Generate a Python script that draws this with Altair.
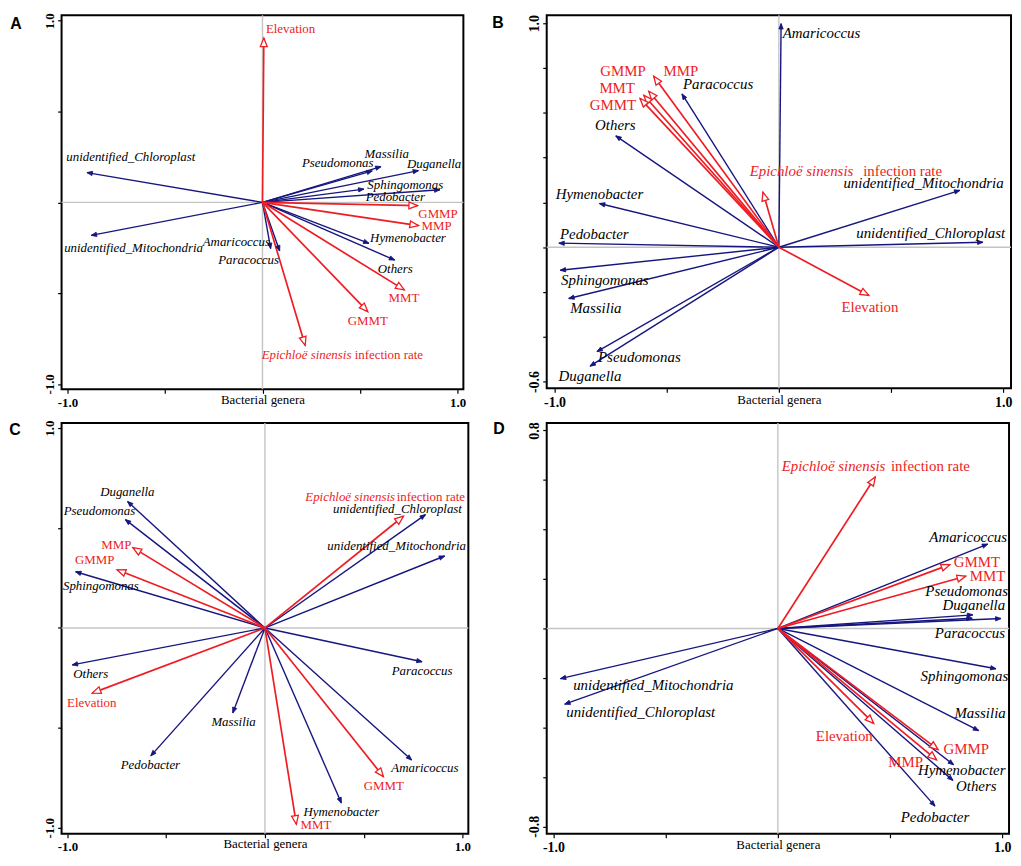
import math
import altair as alt
import pandas as pd

# ---------------- data ----------------
GENERA = ["Amaricoccus", "Duganella", "Hymenobacter", "Massilia", "Others",
          "Paracoccus", "Pedobacter", "Pseudomonas", "Sphingomonas",
          "unidentified_Chloroplast", "unidentified_Mitochondria"]
ENV = ["Elevation", "MMP", "GMMP", "MMT", "GMMT", "Epichloë sinensis infection rate"]
XTICKS = [-1.0, -0.5, 0.0, 0.5, 1.0]

# Panel A
A_GX = [0.042, 0.80, 0.546, 0.608, 0.678, 0.088, 0.91, 0.563, 0.52, -0.90, -0.878]
A_GY = [-0.255, 0.175, -0.226, 0.197, -0.318, -0.268, 0.069, 0.173, 0.073, 0.164, -0.182]
A_GLX = [-0.134, 0.88, 0.746, 0.637, 0.681, -0.071, 0.681, 0.386, 0.732, -0.675, -0.661]
A_GLY = [-0.217, 0.21, -0.195, 0.265, -0.365, -0.319, 0.029, 0.219, 0.093, 0.248, -0.25]
A_EX = [0.007, 0.80, 0.795, 0.727, 0.54, 0.219]
A_EY = [0.905, -0.128, -0.018, -0.482, -0.602, -0.788]
A_ELX = [0.144, 0.893, 0.90, 0.725, 0.54]
A_ELY = [0.954, -0.128, -0.062, -0.529, -0.651]
A_EPI = [0.456, 0.473, -0.839]
A_YTICKS = [-1.0, -0.5, 0.0, 0.5, 1.0]

# Panel B
B_GX = [0.01, -0.842, -0.80, -0.937, -0.727, -0.432, -0.981, -0.811, -0.975, 0.91, 0.807]
B_GY = [0.998, -0.531, 0.195, -0.229, 0.497, 0.684, 0.018, -0.466, -0.103, 0.022, 0.254]
B_GLX = [0.19, -0.842, -0.80, -0.816, -0.729, -0.271, -0.823, -0.622, -0.776, 0.677, 0.645]
B_GLY = [0.954, -0.575, 0.236, -0.27, 0.544, 0.729, 0.059, -0.491, -0.147, 0.065, 0.286]
B_EX = [0.401, -0.558, -0.58, -0.602, -0.619, -0.071]
B_EY = [-0.215, 0.763, 0.696, 0.678, 0.664, 0.246]
B_ELX = [0.406, -0.437, -0.695, -0.721, -0.74]
B_ELY = [-0.265, 0.785, 0.785, 0.711, 0.633]
B_EPI = [0.332, 0.376, 0.338]
B_YTICKS = [-0.6, -0.4, -0.2, 0.0, 0.2, 0.4, 0.6, 0.8, 1.0]

# Panel C
C_GX = [0.743, -0.696, 0.387, -0.163, -0.976, 0.796, -0.578, -0.707, -0.959, 0.813, 0.91]
C_GY = [-0.661, 0.633, -0.876, -0.425, -0.185, -0.169, -0.64, 0.542, 0.281, 0.567, 0.36]
C_GLX = [0.81, -0.697, 0.387, -0.159, -0.882, 0.796, -0.58, -0.838, -0.831, 0.671, 0.667]
C_GLY = [-0.702, 0.678, -0.921, -0.471, -0.231, -0.215, -0.686, 0.583, 0.212, 0.595, 0.41]
C_EX = [-0.875, -0.669, -0.749, 0.159, 0.60, 0.701]
C_EY = [-0.326, 0.402, 0.291, -0.982, -0.744, 0.559]
C_ELX = [-0.877, -0.753, -0.862, 0.258, 0.602]
C_ELY = [-0.375, 0.415, 0.34, -0.987, -0.792]
C_EPI = [0.659, 0.667, 0.655]
C_YTICKS = [-1.0, -0.5, 0.0, 0.5, 1.0]

# Panel D
D_GX = [0.935, 0.866, 0.783, 0.895, 0.78, 0.994, 0.70, 0.869, 0.972, -0.95, -0.969]
D_GY = [0.341, 0.041, -0.551, -0.413, -0.614, 0.04, -0.718, 0.055, -0.163, -0.306, -0.203]
D_GLX = [0.848, 0.873, 0.819, 0.901, 0.884, 0.856, 0.70, 0.841, 0.831, -0.611, -0.555]
D_GLY = [0.369, 0.094, -0.574, -0.34, -0.638, -0.019, -0.761, 0.151, -0.194, -0.337, -0.23]
D_EX = [0.427, 0.707, 0.714, 0.837, 0.766, 0.434]
D_EY = [-0.384, -0.531, -0.49, 0.211, 0.258, 0.612]
D_ELX = [0.296, 0.569, 0.839, 0.934, 0.887]
D_ELY = [-0.434, -0.54, -0.487, 0.211, 0.267]
D_EPI = [0.479, 0.504, 0.655]
D_YTICKS = [-0.8, -0.6, -0.4, -0.2, 0.0, 0.2, 0.4, 0.6, 0.8]

# ---------------- styling ----------------
BLUE = "#16167f"
RED = "#ee1d23"
GRAY = "#c4c4c4"
SERIF = "Liberation Serif"
HEAD = "M0,0L-0.4,1L0.4,1Z"


def lab_expr(lo, hi):
    return ("(abs(datum.value - (%g)) < 1e-6 || abs(datum.value - (%g)) < 1e-6) "
            "? replace(format(datum.value, '.1f'), '\u2212', '-') : ''" % (lo, hi))


def make_panel(letter, gx, gy, glx, gly, ex, ey, elx, ely, epi, xdom, ydom,
               yticks, w, h, fs, tfs, let_dx, let_dy):
    kx = w / (xdom[1] - xdom[0])
    ky = h / (ydom[1] - ydom[0])
    gen = pd.DataFrame({"name": GENERA, "x": gx, "y": gy, "lx": glx, "ly": gly})
    env = pd.DataFrame({"name": ENV, "x": ex, "y": ey})
    envlab = pd.DataFrame({"name": ENV[:5], "lx": elx, "ly": ely})
    for d in (gen, env):
        d["x0"] = 0.0
        d["y0"] = 0.0
        d["angle"] = [(math.degrees(math.atan2(a * kx, b * ky)) + 360.0) % 360.0
                      for a, b in zip(d["x"], d["y"])]
    epi_df = pd.DataFrame({"a": ["Epichloë sinensis"], "b": ["infection rate"],
                           "xa": [epi[0]], "xb": [epi[1]], "y": [epi[2]]})
    zero = pd.DataFrame({"v": [0.0]})

    xs = alt.Scale(domain=xdom, nice=False, zero=False)
    ys = alt.Scale(domain=ydom, nice=False, zero=False)
    xaxis = alt.Axis(values=XTICKS, labelExpr=lab_expr(-1, 1), title="Bacterial genera",
                     grid=False, domain=False, ticks=True, tickSize=4, tickColor="black",
                     tickWidth=1.2, labelFont=SERIF, labelFontWeight="bold",
                     labelFontSize=tfs, labelColor="black", labelPadding=3,
                     titleFont=SERIF, titleFontWeight="normal", titleFontSize=13,
                     titleColor="black", titlePadding=-16)
    yaxis = alt.Axis(values=yticks, labelExpr=lab_expr(yticks[0], yticks[-1]), title=None,
                     grid=False, domain=False, ticks=True, tickSize=4, tickColor="black",
                     tickWidth=1.2, labelFont=SERIF, labelFontWeight="bold",
                     labelFontSize=tfs, labelColor="black", labelAngle=270, labelPadding=1)

    def X(f):
        return alt.X(f, type="quantitative", scale=xs, axis=xaxis)

    def Y(f):
        return alt.Y(f, type="quantitative", scale=ys, axis=yaxis)

    hline = alt.Chart(zero).mark_rule(color=GRAY, strokeWidth=1.4).encode(y=Y("v"))
    vline = alt.Chart(zero).mark_rule(color=GRAY, strokeWidth=1.4).encode(x=X("v"))
    glines = alt.Chart(gen).mark_rule(color=BLUE, strokeWidth=1.4).encode(
        x=X("x0"), y=Y("y0"), x2="x", y2="y")
    elines = alt.Chart(env).mark_rule(color=RED, strokeWidth=1.7).encode(
        x=X("x0"), y=Y("y0"), x2="x", y2="y")
    gheads = alt.Chart(gen).mark_point(shape=HEAD, filled=True, fill=BLUE, stroke=BLUE,
                                       strokeWidth=0.8, size=120, opacity=1).encode(
        x=X("x"), y=Y("y"), angle=alt.Angle("angle:Q", scale=None))
    eheads = alt.Chart(env).mark_point(shape=HEAD, filled=True, fill="white", stroke=RED,
                                       strokeWidth=1.3, size=300, opacity=1).encode(
        x=X("x"), y=Y("y"), angle=alt.Angle("angle:Q", scale=None))
    gtext = alt.Chart(gen).mark_text(font=SERIF, fontStyle="italic", fontSize=fs,
                                     color="black", align="center", baseline="middle").encode(
        x=X("lx"), y=Y("ly"), text="name:N")
    etext = alt.Chart(envlab).mark_text(font=SERIF, fontSize=fs, color=RED,
                                        align="center", baseline="middle").encode(
        x=X("lx"), y=Y("ly"), text="name:N")
    epi_a = alt.Chart(epi_df).mark_text(font=SERIF, fontStyle="italic", fontSize=fs,
                                        color=RED, align="right", baseline="middle").encode(
        x=X("xa"), y=Y("y"), text="a:N")
    epi_b = alt.Chart(epi_df).mark_text(font=SERIF, fontSize=fs, color=RED,
                                        align="left", baseline="middle").encode(
        x=X("xb"), y=Y("y"), text="b:N")
    let = alt.Chart(pd.DataFrame({"t": [letter]})).mark_text(
        font="Liberation Sans", fontWeight="bold", fontSize=16, color="black",
        align="center", baseline="middle").encode(
        x=alt.value(let_dx), y=alt.value(let_dy), text="t:N")

    return alt.layer(hline, vline, glines, elines, gheads, eheads, gtext, etext,
                     epi_a, epi_b, let).properties(width=w, height=h)


pA = make_panel("A", A_GX, A_GY, A_GLX, A_GLY, A_EX, A_EY, A_ELX, A_ELY, A_EPI,
                [-1.03, 1.03], [-1.03, 1.03], A_YTICKS, 405, 377, 13, 13, -46, 9)
pB = make_panel("B", B_GX, B_GY, B_GLX, B_GLY, B_EX, B_EY, B_ELX, B_ELY, B_EPI,
                [-1.035, 1.035], [-0.63, 1.035], B_YTICKS, 468, 376, 15, 14, -49, 8)
pC = make_panel("C", C_GX, C_GY, C_GLX, C_GLY, C_EX, C_EY, C_ELX, C_ELY, C_EPI,
                [-1.03, 1.03], [-1.03, 1.025], C_YTICKS, 410, 414, 13, 13, -47, 7)
pD = make_panel("D", D_GX, D_GY, D_GLX, D_GLY, D_EX, D_EY, D_ELX, D_ELY, D_EPI,
                [-1.03, 1.03], [-0.83, 0.83], D_YTICKS, 466, 414, 15, 14, -48, 6)

chart = alt.concat(pA, pB, pC, pD, columns=2, spacing={"row": 34, "column": 79},
                   bounds="flush", align="each", padding=0,
                   background="white").configure_view(stroke="black", strokeWidth=2)

chart.save("out.html", embed_options={"renderer": "svg", "actions": False})
